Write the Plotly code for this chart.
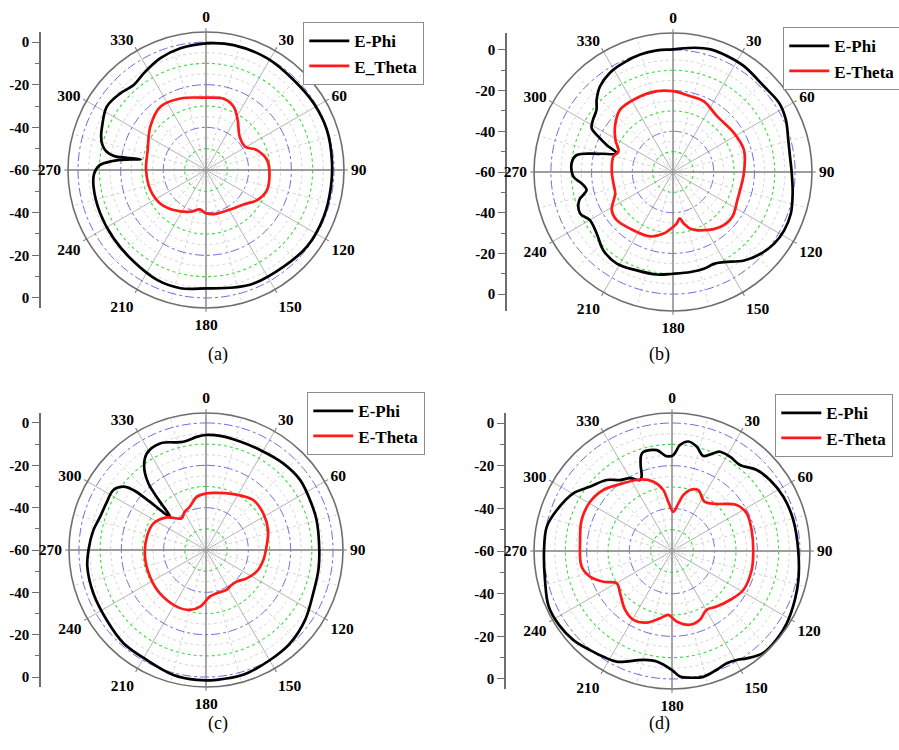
import plotly.graph_objects as go

W, H = 899, 750

# ---------------- data (angle in degrees, level in dB) ----------------
a_phi_deg = [0, 12.5, 28.6, 44.2, 58.2, 71.7, 85.5, 97.6, 111.6, 127.2, 141.2, 157.2, 166.7, 180, 192.2, 204, 218.3,
             233.5, 247.7, 261.6, 268, 272.5, 275.5, 277.5, 279.2, 278.8, 278.6, 280.5, 284, 288, 292.6, 302.6,
             311.8, 319.6, 327.2, 337.8, 348.1, 360]
a_phi_db = [-0.6, 0, -0.3, -1.1, -0.6, -0.3, -0.8, -0.9, -0.6, -0.6, -1.9, -2.3, -3.4, -4.5, -3.3, -3.6, -5.3,
            -6.1, -6.4, -6.7, -7.5, -10, -16, -22.5, -29, -22.5, -16.5, -12.5, -9.8, -8.3, -7.2, -4.8,
            -6.1, -7.7, -6.1, -3.4, -1.7, -0.6]
a_theta_deg = [0, 13.9, 23.6, 32.3, 45.3, 59.3, 68.6, 80.7, 93, 108.2, 120.5, 131.8, 152.7, 170, 180, 189, 200.6,
               218.9, 233.9, 250.2, 270, 288.9, 307.9, 324.2, 340.3, 360]
a_theta_db = [-26.1, -25.6, -27.6, -32.2, -37.8, -38.6, -34.4, -31, -30.2, -29.9, -32.2, -35.9, -38.6, -39, -39.7,
              -41.3, -39.1, -35.9, -33.4, -32.3, -31.9, -31.1, -26.9, -23.4, -24.4, -26.1]

b_phi_deg = [0, 10, 17, 25, 34, 46.7, 57, 65.2, 74.4, 82, 90, 100, 109.4, 117.7, 125.3, 133, 141.2, 150.5, 156,
             162.3, 170, 180, 189, 200.2, 211.5, 221.6, 231, 239.9, 246, 253.3, 258.2, 262.9, 267.3, 275, 280,
             284, 288.4, 292.2, 295.4, 298.3, 303, 309, 313.5, 319.6, 327.6, 335.6, 344.4, 352.5, 360]
b_phi_db = [0.3, 2.0, 3.0, 2.9, 2.6, 1.4, 2.2, 1.1, -1.2, -2, -1.7, -0.3, 1.4, 1.7, 0.9, -1.1, -4.2, -9.1, -10.6,
            -10.1, -10.1, -10, -9, -8.5, -7.2, -8.5, -11.8, -12.8, -10, -11.9, -16.6, -14.7, -11, -10, -12,
            -23, -31, -24.8, -19.3, -14.6, -13.1, -11.6, -8.3, -4.7, -2.2, -1.1, -0.1, 0.3, 0.3]
b_theta_deg = [0, 13, 23.6, 38.5, 57.5, 72.7, 90, 113.6, 127, 139, 152, 163, 168, 171.8, 176, 180, 188.7, 199.5,
               217, 229.4, 238, 249.7, 259, 271, 284.5, 290.5, 299, 308, 319.7, 334, 348.7, 360]
b_theta_db = [-20.3, -21.8, -22.1, -25.1, -24.4, -23.5, -25.1, -25.5, -23.5, -24.3, -27.6, -30.9, -34, -37, -34.5,
              -33, -29.4, -26.4, -25.1, -23.6, -24.5, -29.7, -30.2, -29.9, -29.7, -31.4, -27.7, -23.8, -19.8,
              -19.5, -19.5, -20.3]

c_phi_deg = [0, 7, 17.4, 28.4, 41.7, 53.3, 64.3, 74.8, 90, 100, 112, 125.3, 138, 149.8, 163.4, 175.3, 184, 194.6,
             208.3, 221.5, 234.8, 249, 262, 270, 280, 287.5, 295, 302.9, 307.5, 309.5, 310.5, 312.8, 316.4,
             319.1, 323.4, 328.5, 336.7, 348.2, 355.3, 360]
c_phi_db = [-5.7, -5.7, -6.3, -6.3, -5.2, -4.6, -5.5, -5.9, -6.5, -6.1, -5.4, -2.7, -0.7, 0.1, 1.5, 1.5, 1.5, 1,
            -1, -1.2, -2.6, -3, -3.4, -4.5, -6, -7.6, -8, -7.9, -10.9, -15.5, -23, -36.9, -28.5,
            -18.5, -11, -6.5, -5.2, -7.8, -6.4, -5.7]
c_theta_deg = [0, 7.3, 26, 43.4, 57.4, 72.2, 86.9, 99.9, 113.2, 124.9, 135.9, 145, 152.7, 166, 175, 186, 195,
               207.4, 226.7, 244.5, 263.8, 282.7, 296.9, 309.7, 322.5, 330, 339.7, 350, 360]
c_theta_db = [-33.3, -32.8, -30.6, -27.5, -27.9, -29.2, -31.4, -32.5, -34, -36.6, -39.2, -39.5, -38.8, -39, -38,
              -33.1, -30.7, -29.9, -30.1, -30.7, -31, -31.4, -32.2, -35.9, -41.1, -39.5, -38.1, -34.5, -33.3]

d_phi_deg = [0.8, 4.3, 8.5, 13.3, 18.3, 22.9, 25.8, 31.6, 38.3, 46.3, 54.1, 64, 75.7, 90, 102.9, 111.7, 122.2,
             130.4, 138.3, 145.2, 149.3, 154, 159.4, 166, 171.9, 176.4, 180, 187.9, 194.7, 206.6, 213, 219.6,
             227.9, 236.7, 245.8, 257, 270, 281, 289.6, 300.3, 308, 317.4, 323.8, 330, 335.7, 337.8, 340, 342,
             343.9, 351.4, 356.8, 360.8]
d_phi_db = [-15, -10.2, -8.1, -9.7, -13.1, -10.3, -8.3, -8.1, -8.6, -5, -3.3, -1.9, -1.3, -0.8, 0.8, 2, 3.6,
            4.2, 4.1, 1.3, -0.6, -1.4, -0.5, 0.8, 0, -1, -4.2, -7.7, -7.2, -2, -0.9, 0.3,
            2.3, 3.3, 3.4, 1.1, 0, -0.2, -2.7, -6.4, -11.1, -14.8, -18.8, -20.6, -23.5, -22.3, -17, -13,
            -11.6, -12.2, -15.5, -15]
d_theta_deg = [2, 7.6, 11.4, 16.4, 23.3, 33.3, 43.5, 54.6, 63.2, 75.2, 90, 103.4, 118.7, 130.2, 141.3, 149.6,
               157.9, 166.3, 176.2, 183.3, 190, 199.5, 209.3, 218.5, 230.8, 239.7, 245.9, 252.6, 260.2, 276.8,
               288.9, 301, 311.6, 324.3, 336, 345, 351.9, 355.7, 362]
d_theta_db = [-41.6, -37.5, -33.3, -30.2, -28.9, -32.3, -29.5, -22.8, -20.8, -21.4, -21.9, -21.6, -21.9, -24.4,
              -26.6, -28, -25.2, -24.4, -26.9, -30, -28, -24.4, -23, -24.7, -28.6, -30, -24.7, -19.7, -17, -16.6,
              -15.2, -15.2, -16.9, -20.9, -23.3, -26.4, -31.1, -36.9, -41.6]

series_names = ["E-Phi", "E-Theta"]
legend_names_a = ["E-Phi", "E_Theta"]
captions = ["(a)", "(b)", "(c)", "(d)"]

angle_ticks = list(range(0, 360, 30))
angle_labels = [str(a) for a in angle_ticks]
r_min = -60
blue_rings = [-40, -20, 0]
green_rings = [-50, -30, -10]
minor_rings = [-55, -45, -35, -25, -15, -5]
y_major = [-60, -40, -20, 0, 20, 40, 60]
y_major_text = ["0", "-20", "-40", "-60", "-40", "-20", "0"]
y_minor = [-50, -30, -10, 10, 30, 50]


def bold(s):
    return "<b>" + s + "</b>"


# ---------------- layout geometry (pixels) ----------------
panels = [
    dict(cx=206, cy=170, r=138, rmax=4.7, yx=41, leg=(303, 22), cap=(206, 354),
         data=(a_phi_deg, a_phi_db, a_theta_deg, a_theta_db), names=legend_names_a),
    dict(cx=673, cy=172, r=139, rmax=8.3, yx=507, leg=(783, 27), cap=(672, 354),
         data=(b_phi_deg, b_phi_db, b_theta_deg, b_theta_db), names=series_names),
    dict(cx=206, cy=550, r=137, rmax=4.7, yx=41, leg=(307, 392), cap=(206, 736),
         data=(c_phi_deg, c_phi_db, c_theta_deg, c_theta_db), names=series_names),
    dict(cx=672, cy=551, r=138, rmax=4.7, yx=506, leg=(775, 394), cap=(672, 736),
         data=(d_phi_deg, d_phi_db, d_theta_deg, d_theta_db), names=series_names),
]

SERIF = "Liberation Serif"
fig = go.Figure()
layout = dict(width=W, height=H, margin=dict(l=0, r=0, t=0, b=0, autoexpand=False),
              paper_bgcolor="white", plot_bgcolor="white", showlegend=True, annotations=[],
              font=dict(family=SERIF, color="black"))

ring_theta = list(range(0, 361, 2))

for i, p in enumerate(panels):
    k = i + 1
    sfx = "" if k == 1 else str(k)
    polar_id = "polar" + sfx
    legend_id = "legend" + sfx
    rmax = p["rmax"]

    # minor dotted rings / spokes
    for rv in minor_rings:
        fig.add_trace(go.Scatterpolar(r=[rv] * len(ring_theta), theta=ring_theta, mode="lines",
                                      line=dict(color="#d4d4d4", width=1, dash="dot"),
                                      subplot=polar_id, showlegend=False, hoverinfo="skip"))
    for t in range(15, 360, 30):
        fig.add_trace(go.Scatterpolar(r=[r_min, rmax], theta=[t, t], mode="lines",
                                      line=dict(color="#d4d4d4", width=1, dash="dot"),
                                      subplot=polar_id, showlegend=False, hoverinfo="skip"))
    for rv in green_rings:
        fig.add_trace(go.Scatterpolar(r=[rv] * len(ring_theta), theta=ring_theta, mode="lines",
                                      line=dict(color="#3ddc3d", width=1.1, dash="dot"),
                                      subplot=polar_id, showlegend=False, hoverinfo="skip"))
    for rv in blue_rings:
        fig.add_trace(go.Scatterpolar(r=[rv] * len(ring_theta), theta=ring_theta, mode="lines",
                                      line=dict(color="#6b6be6", width=1, dash="dashdot"),
                                      subplot=polar_id, showlegend=False, hoverinfo="skip"))
    # main cross lines
    for t in (0, 90):
        fig.add_trace(go.Scatterpolar(r=[rmax, r_min, rmax], theta=[t, t, t + 180], mode="lines",
                                      line=dict(color="#8a8a8a", width=1.3),
                                      subplot=polar_id, showlegend=False, hoverinfo="skip"))

    phi_deg, phi_db, th_deg, th_db = p["data"]
    fig.add_trace(go.Scatterpolar(r=phi_db, theta=phi_deg, mode="lines", name=bold(p["names"][0]),
                                  line=dict(color="black", width=2.7, shape="spline", smoothing=1.0),
                                  subplot=polar_id, legend=legend_id))
    fig.add_trace(go.Scatterpolar(r=th_db, theta=th_deg, mode="lines", name=bold(p["names"][1]),
                                  line=dict(color="#ff1a1a", width=2.7, shape="spline", smoothing=1.0),
                                  subplot=polar_id, legend=legend_id))

    x0 = (p["cx"] - p["r"]) / W
    x1 = (p["cx"] + p["r"]) / W
    y0 = 1 - (p["cy"] + p["r"]) / H
    y1 = 1 - (p["cy"] - p["r"]) / H
    layout[polar_id] = dict(
        domain=dict(x=[x0, x1], y=[y0, y1]),
        bgcolor="white",
        radialaxis=dict(range=[r_min, rmax], visible=False),
        angularaxis=dict(rotation=90, direction="clockwise", tickmode="array",
                         tickvals=angle_ticks, ticktext=[bold(s) for s in angle_labels],
                         showline=True, linecolor="#6e6e6e", linewidth=1.6,
                         showgrid=True, gridcolor="#b4b4b4", gridwidth=1,
                         ticks="outside", ticklen=3, tickcolor="#6e6e6e",
                         tickfont=dict(family=SERIF, size=15.5, color="black")),
    )

    # left linear dB axis
    xa = "xaxis" + sfx
    ya = "yaxis" + sfx
    layout[xa] = dict(domain=[p["yx"] / W, (p["yx"] + 2) / W], visible=False, anchor="y" + sfx,
                      range=[0, 1], fixedrange=True)
    span = 60 + rmax
    layout[ya] = dict(domain=[y0, y1], anchor="x" + sfx, range=[-span, span], side="left",
                      showline=True, linecolor="#6e6e6e", linewidth=1.6, showgrid=False, zeroline=False,
                      ticks="outside", ticklen=7, tickwidth=1.4, tickcolor="#6e6e6e",
                      tickmode="array", tickvals=y_major, ticktext=[bold(s) for s in y_major_text],
                      minor=dict(tickvals=y_minor, ticks="outside", ticklen=4, tickcolor="#6e6e6e", tickwidth=1.2),
                      tickfont=dict(family=SERIF, size=15, color="black"), fixedrange=True)
    fig.add_trace(go.Scatter(x=[], y=[], xaxis="x" + sfx, yaxis="y" + sfx, showlegend=False, hoverinfo="skip"))

    layout[legend_id] = dict(x=p["leg"][0] / W, y=1 - p["leg"][1] / H, xanchor="left", yanchor="top",
                             xref="paper", yref="paper",
                             bgcolor="white", bordercolor="#8c8c8c", borderwidth=1.3,
                             font=dict(family=SERIF, size=17, color="black"),
                             tracegroupgap=0, itemwidth=40)

    layout["annotations"].append(dict(x=p["cap"][0] / W, y=1 - p["cap"][1] / H, xref="paper", yref="paper",
                                      text=captions[i], showarrow=False,
                                      font=dict(family=SERIF, size=18, color="black")))

fig.update_layout(**layout)
fig.write_html("out.html")
